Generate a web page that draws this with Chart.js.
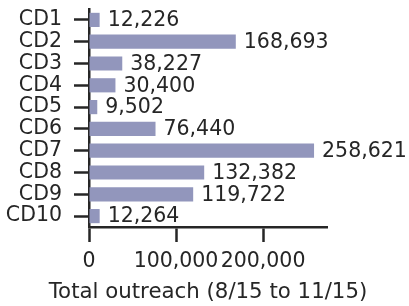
<!DOCTYPE html>
<html>
<head>
<meta charset="utf-8">
<script src="https://cdn.jsdelivr.net/npm/chart.js@4"></script>
<style>
  html, body { margin: 0; padding: 0; background: #fff; }
  #wrap { width: 409px; height: 306px; }
</style>
</head>
<body>
<div id="wrap"><canvas id="chart" width="409" height="306"></canvas></div>
<script>
// districts and their outreach totals
const districts = ['CD1', 'CD2', 'CD3', 'CD4', 'CD5', 'CD6', 'CD7', 'CD8', 'CD9', 'CD10'];
const outreach = [12226, 168693, 38227, 30400, 9502, 76440, 258621, 132382, 119722, 12264];
const xTicks = [0, 100000, 200000];
const xTitle = 'Total outreach (8/15 to 11/15)';

const ink = '#262626';
const font = { family: 'DejaVu Sans', size: 20.5, lineHeight: 1.2 };

// value written just right of each bar, plus the x axis title
// (the built-in scale title gets squeezed to the axis width)
const barLabels = {
    id: 'barLabels',
    afterDatasetsDraw(chart) {
        const ctx = chart.ctx;
        const meta = chart.getDatasetMeta(0);
        const area = chart.chartArea;
        ctx.save();
        ctx.font = '20.5px "DejaVu Sans"';
        ctx.fillStyle = ink;
        ctx.textAlign = 'left';
        ctx.textBaseline = 'middle';
        meta.data.forEach((bar, i) => {
            ctx.fillText(outreach[i].toLocaleString('en-US'), bar.x + 8, bar.y + 1);
        });
        ctx.font = '21.3px "DejaVu Sans"';
        ctx.textAlign = 'center';
        ctx.fillText(xTitle, (area.left + area.right) / 2, 292);
        ctx.restore();
    }
};

new Chart(document.getElementById('chart'), {
    type: 'bar',
    data: {
        labels: districts,
        datasets: [{
            data: outreach,
            backgroundColor: '#9296bc',
            borderWidth: 0,
            barPercentage: 0.65,
            categoryPercentage: 1
        }]
    },
    options: {
        indexAxis: 'y',
        responsive: false,
        animation: false,
        layout: { padding: { top: 9, right: 82, bottom: 0, left: 0 } },
        plugins: { legend: { display: false }, tooltip: { enabled: false } },
        scales: {
            y: {
                grid: { offset: false, drawOnChartArea: false, drawTicks: true, tickLength: 15, tickWidth: 2.5, tickColor: ink },
                border: { color: ink, width: 2.5 },
                ticks: { color: ink, font: font, padding: 12, autoSkip: false },
                afterFit: (scale) => {
                    scale.width = 89;
                    scale.paddingTop = 0;
                    scale.paddingBottom = 0;
                }
            },
            x: {
                min: 0,
                max: 273500,
                afterBuildTicks: (scale) => { scale.ticks = xTicks.map(v => ({ value: v })); },
                grid: { drawOnChartArea: false, drawTicks: true, tickLength: 15, tickWidth: 2.5, tickColor: ink },
                border: { color: ink, width: 2.5 },
                ticks: {
                    color: ink, font: font, padding: 7, autoSkip: false, maxRotation: 0,
                    callback: (v) => v.toLocaleString('en-US')
                },
                afterFit: (scale) => { scale.height = 79; }
            }
        }
    },
    plugins: [barLabels]
});
</script>
</body>
</html>
